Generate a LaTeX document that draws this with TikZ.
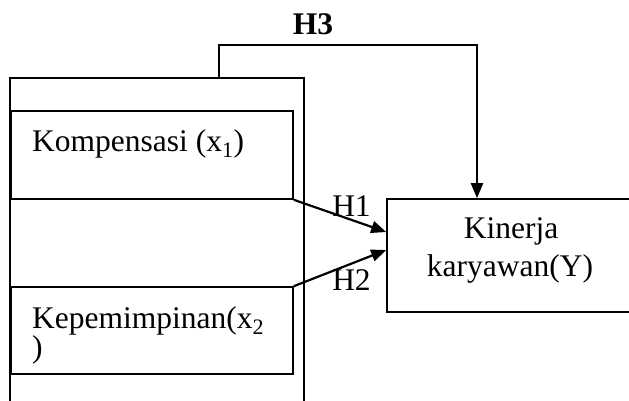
\documentclass[tikz,border=0pt]{standalone}
\usepackage{fontspec}
\setmainfont{Liberation Serif}
\usetikzlibrary{arrows.meta}
\begin{document}
\begin{tikzpicture}[x=1pt,y=-1pt,
  boxline/.style={draw=black,line width=1.6pt},
  varbox/.style={boxline,rectangle,inner sep=0pt,anchor=center},
  lbl/.style={inner sep=0pt,font=\fontsize{31.5}{36}\selectfont},
  conn/.style={line width=2.2pt,-{Triangle[length=15pt,width=12pt]}}]
\useasboundingbox (0,0) rectangle (629,401);
\clip (0,0) rectangle (629,401);
% outer frame (open at bottom)
\draw[boxline] (10,410) -- (10,78) -- (304,78) -- (304,410);
\coordinate (outertop) at (219,78);
% boxes
\node[varbox,minimum width=282pt,minimum height=88pt] (komp) at (152,155) {};
\node[varbox,minimum width=282pt,minimum height=87pt] (kep) at (152,330.5) {};
\node[varbox,minimum width=253pt,minimum height=113pt] (kin) at (513.5,255.5) {};
% texts
\node[lbl,anchor=base west] (kompt) at (32,151.7) {Kompensasi (x\textsubscript{1})};
\node[lbl,anchor=base west] (kept) at (32,328) {Kepemimpinan(x\textsubscript{2}};
\node[lbl,anchor=base west] (kept2) at (32,357.5) {)};
\node[lbl,anchor=base] (kint) at (511,238.3) {Kinerja};
\node[lbl,anchor=base] (kint2) at (510,276) {karyawan(Y)};
% connectors
\draw[conn] (komp.south east) -- ([yshift=23.5pt]kin.west);
\draw[conn] (kep.north east) -- ([yshift=5.5pt]kin.west);
\draw[conn] (outertop) |- (477,45) -- (kin.north -| 477,0);
% labels
\node[lbl,anchor=base] (h1) at (351.5,216.7) {H1};
\node[lbl,anchor=base] (h2) at (351.5,290) {H2};
\node[lbl,anchor=base,font=\fontsize{31.5}{36}\selectfont\bfseries] (h3) at (313,34.3) {H3};
\end{tikzpicture}
\end{document}
